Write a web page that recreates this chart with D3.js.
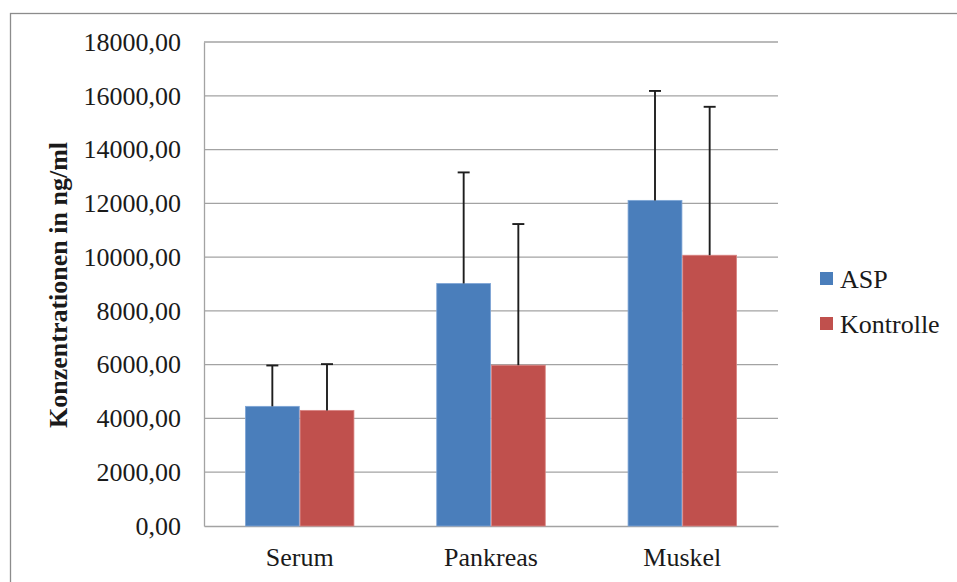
<!DOCTYPE html>
<html>
<head>
<meta charset="utf-8">
<script src="https://cdn.jsdelivr.net/npm/d3@7/dist/d3.min.js"></script>
<style>
  html, body { margin: 0; padding: 0; background: #fff; }
  svg { display: block; }
  svg text { font-family: "Liberation Serif", "Times New Roman", serif !important; }
</style>
</head>
<body>
<svg id="chart" width="957" height="582"></svg>
<script>
const categories = ["Serum", "Pankreas", "Muskel"];
const seriesNames = ["ASP", "Kontrolle"];
const aspValues = [4450, 9020, 12110];
const aspErrors = [1520, 4130, 4070];
const kontrolleValues = [4300, 5980, 10070];
const kontrolleErrors = [1720, 5250, 5520];
const yTicks = [0, 2000, 4000, 6000, 8000, 10000, 12000, 14000, 16000, 18000];
const colors = ["#4A7EBB", "#C0504D"];
const edgeColors = ["#7FA6D6", "#D98583"];

const series = [
  { name: seriesNames[0], values: aspValues, errors: aspErrors },
  { name: seriesNames[1], values: kontrolleValues, errors: kontrolleErrors }
];

const svg = d3.select("#chart");
const fontFamily = "Liberation Serif, Times New Roman, serif";

// outer border
svg.append("rect")
  .attr("x", 10.5).attr("y", 13.5)
  .attr("width", 960).attr("height", 590)
  .attr("fill", "none").attr("stroke", "#8c8c8c").attr("stroke-width", 1.3);

const plot = { left: 204, right: 778, top: 42, bottom: 526 };

const x = d3.scaleBand()
  .domain(categories)
  .range([plot.left, plot.right])
  .paddingInner(0.4286)
  .paddingOuter(0.2143);

const xs = d3.scaleBand()
  .domain(seriesNames)
  .range([0, x.bandwidth()]);

const y = d3.scaleLinear()
  .domain([0, 18000])
  .range([plot.bottom, plot.top]);

// gridlines
svg.append("g")
  .selectAll("line")
  .data(yTicks.filter(d => d > 0))
  .join("line")
  .attr("x1", plot.left).attr("x2", plot.right)
  .attr("y1", d => y(d)).attr("y2", d => y(d))
  .attr("stroke", "#a3a3a3").attr("stroke-width", 1.3);

// y axis
const yAxis = d3.axisLeft(y)
  .tickValues(yTicks)
  .tickSize(0)
  .tickPadding(23)
  .tickFormat(d => d3.format(".2f")(d).replace(".", ","));

const gy = svg.append("g")
  .attr("transform", `translate(${plot.left},0)`)
  .call(yAxis)
  .attr("font-family", fontFamily);
gy.select(".domain").attr("stroke", "#a3a3a3").attr("stroke-width", 1.3);
gy.selectAll("text")
  .attr("font-size", 26)
  .attr("fill", "#1a1a1a");

// x axis
const xAxis = d3.axisBottom(x).tickSize(0).tickPadding(22);
const gx = svg.append("g")
  .attr("transform", `translate(0,${plot.bottom})`)
  .call(xAxis)
  .attr("font-family", fontFamily);
gx.select(".domain").attr("stroke", "#a3a3a3").attr("stroke-width", 1.3);
gx.selectAll("text")
  .attr("font-size", 26)
  .attr("fill", "#1a1a1a");

// bars
series.forEach((s, si) => {
  const g = svg.append("g");
  g.selectAll("rect")
    .data(categories)
    .join("rect")
    .attr("x", (c) => x(c) + xs(s.name) + 0.4)
    .attr("width", xs.bandwidth() - 0.8)
    .attr("y", (c, i) => y(s.values[i]))
    .attr("height", (c, i) => y(0) - y(s.values[i]))
    .attr("fill", colors[si])
    .attr("stroke", edgeColors[si])
    .attr("stroke-width", 0.8);
});

// error bars (upper only)
series.forEach((s, si) => {
  const g = svg.append("g").attr("stroke", "#1e1e1e").attr("stroke-width", 1.9);
  categories.forEach((c, i) => {
    const cx = x(c) + xs(s.name) + xs.bandwidth() / 2;
    const top = y(s.values[i] + s.errors[i]);
    g.append("line")
      .attr("x1", cx).attr("x2", cx)
      .attr("y1", y(s.values[i])).attr("y2", top);
    g.append("line")
      .attr("x1", cx - 6).attr("x2", cx + 6)
      .attr("y1", top).attr("y2", top);
  });
});

// y axis title
svg.append("text")
  .attr("transform", `translate(67,${(plot.top + plot.bottom) / 2 + 1}) rotate(-90)`)
  .attr("text-anchor", "middle")
  .attr("font-family", fontFamily)
  .attr("font-weight", "bold")
  .attr("font-size", 26)
  .attr("fill", "#1a1a1a")
  .text("Konzentrationen in ng/ml");

// legend
const legend = svg.append("g").attr("transform", "translate(820,272)");
series.forEach((s, si) => {
  const lg = legend.append("g").attr("transform", `translate(0,${si * 45})`);
  lg.append("rect")
    .attr("width", 13).attr("height", 13)
    .attr("fill", colors[si]);
  lg.append("text")
    .attr("x", 20).attr("y", 15.5)
    .attr("font-family", fontFamily)
    .attr("font-size", 26)
    .attr("fill", "#1a1a1a")
    .text(s.name);
});
</script>
</body>
</html>
